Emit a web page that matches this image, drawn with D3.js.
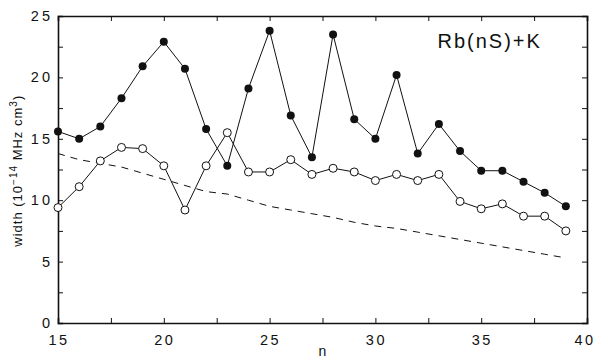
<!DOCTYPE html>
<html>
<head>
<meta charset="utf-8">
<script src="https://cdn.jsdelivr.net/npm/d3@7"></script>
<style>
  body { margin: 0; background: #fff; }
  text { font-family: "Liberation Sans", Arial, sans-serif; fill: #111; }
</style>
</head>
<body>
<div id="chart"></div>
<script>
// principal quantum number n
const nValues = [15, 16, 17, 18, 19, 20, 21, 22, 23, 24, 25, 26, 27, 28, 29, 30, 31, 32, 33, 34, 35, 36, 37, 38, 39];

// filled circles
const filledWidth = [15.6, 15.0, 16.0, 18.3, 20.9, 22.9, 20.7, 15.8, 12.8, 19.1, 23.8, 16.9, 13.5, 23.5, 16.6, 15.0, 20.2, 13.8, 16.2, 14.0, 12.4, 12.4, 11.5, 10.6, 9.5];

// open circles
const openWidth = [9.4, 11.1, 13.2, 14.3, 14.2, 12.8, 9.2, 12.8, 15.5, 12.3, 12.3, 13.3, 12.1, 12.6, 12.3, 11.6, 12.1, 11.6, 12.1, 9.9, 9.3, 9.7, 8.7, 8.7, 7.5];

// dashed curve
const dashedWidth = [13.8, 13.3, 13.0, 12.7, 12.2, 11.7, 11.2, 10.7, 10.5, 10.0, 9.5, 9.2, 8.9, 8.6, 8.2, 7.9, 7.7, 7.4, 7.1, 6.8, 6.5, 6.2, 5.9, 5.6, 5.3];

const xTicks = [15, 20, 25, 30, 35, 40];
const yTicks = [0, 5, 10, 15, 20, 25];

const width = 597;
const height = 360;
const margin = { top: 16, right: 10, bottom: 37, left: 58 };

const svg = d3.select('#chart').append('svg')
  .attr('width', width)
  .attr('height', height);

const x = d3.scaleLinear().domain([15, 40]).range([margin.left, width - margin.right]);
const y = d3.scaleLinear().domain([0, 25]).range([height - margin.bottom, margin.top]);

const minorX = d3.range(15, 40.01, 2.5);
const minorY = d3.range(0, 25.01, 2.5);

// axes: inward ticks on all four sides
const axisG = svg.append('g');
axisG.append('g')
  .attr('transform', `translate(0,${y(0)})`)
  .call(d3.axisBottom(x).tickValues(minorX).tickSize(-5).tickFormat(''));
axisG.append('g')
  .attr('transform', `translate(0,${y(25)})`)
  .call(d3.axisTop(x).tickValues(minorX).tickSize(-5).tickFormat(''));
axisG.append('g')
  .attr('transform', `translate(${x(15)},0)`)
  .call(d3.axisLeft(y).tickValues(minorY).tickSize(-5).tickFormat(''));
axisG.append('g')
  .attr('transform', `translate(${x(40)},0)`)
  .call(d3.axisRight(y).tickValues(minorY).tickSize(-5).tickFormat(''));
axisG.selectAll('.domain').attr('stroke', '#111').attr('stroke-width', 1.6);
axisG.selectAll('.tick line').attr('stroke', '#111').attr('stroke-width', 1);

// tick labels (last one pulled in so it stays on the page)
svg.append('g').selectAll('text')
  .data(xTicks)
  .join('text')
  .attr('x', d => Math.min(x(d) + 1, width - 12))
  .attr('y', y(0) + 22)
  .attr('text-anchor', 'middle')
  .style('font-size', '14.5px')
  .style('letter-spacing', '2.5px')
  .text(d => d);

svg.append('g').selectAll('text')
  .data(yTicks)
  .join('text')
  .attr('x', x(15) - 5)
  .attr('y', d => y(d) + 5)
  .attr('text-anchor', 'end')
  .style('font-size', '14.5px')
  .style('letter-spacing', '3px')
  .text(d => d);

// axis titles
svg.append('text')
  .attr('x', x(27.5))
  .attr('y', height - 4)
  .attr('text-anchor', 'middle')
  .style('font-size', '14px')
  .text('n');

const yl = svg.append('text')
  .attr('transform', `translate(22,${y(12.4)}) rotate(-90)`)
  .attr('text-anchor', 'middle')
  .style('font-size', '13px')
  .style('letter-spacing', '1px');
yl.append('tspan').text('width (10');
yl.append('tspan').attr('dy', -5).style('font-size', '10px').text('\u221214');
yl.append('tspan').attr('dy', 5).text(' MHz cm');
yl.append('tspan').attr('dy', -5).style('font-size', '10px').text('3');
yl.append('tspan').attr('dy', 5).text(')');

svg.append('text')
  .attr('x', x(35.4))
  .attr('y', y(22.4))
  .attr('text-anchor', 'middle')
  .style('font-size', '20px')
  .style('letter-spacing', '2px')
  .text('Rb(nS)+K');

// lines
const line = d3.line()
  .x(d => x(d[0]))
  .y(d => y(d[1]));

const dashedPts = nValues.map((n, i) => [n, dashedWidth[i]]);
const filledPts = nValues.map((n, i) => [n, filledWidth[i]]);
const openPts = nValues.map((n, i) => [n, openWidth[i]]);

svg.append('path')
  .datum(dashedPts)
  .attr('fill', 'none')
  .attr('stroke', '#111')
  .attr('stroke-width', 1)
  .attr('stroke-dasharray', '7,6')
  .attr('d', line);

svg.append('path')
  .datum(openPts)
  .attr('fill', 'none')
  .attr('stroke', '#111')
  .attr('stroke-width', 1)
  .attr('d', line);

svg.append('path')
  .datum(filledPts)
  .attr('fill', 'none')
  .attr('stroke', '#111')
  .attr('stroke-width', 1)
  .attr('d', line);

svg.append('g').selectAll('circle')
  .data(openPts)
  .join('circle')
  .attr('cx', d => x(d[0]))
  .attr('cy', d => y(d[1]))
  .attr('r', 4)
  .attr('fill', '#fff')
  .attr('stroke', '#111')
  .attr('stroke-width', 1);

svg.append('g').selectAll('circle')
  .data(filledPts)
  .join('circle')
  .attr('cx', d => x(d[0]))
  .attr('cy', d => y(d[1]))
  .attr('r', 4)
  .attr('fill', '#111');
</script>
</body>
</html>
